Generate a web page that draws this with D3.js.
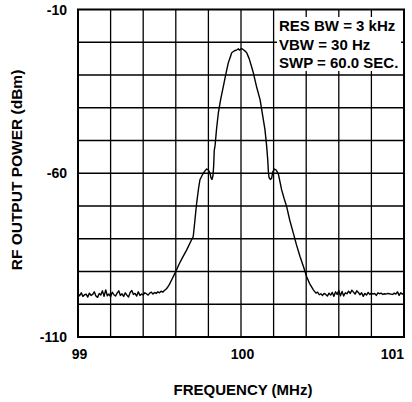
<!DOCTYPE html>
<html>
<head>
<meta charset="utf-8">
<script src="https://cdn.jsdelivr.net/npm/d3@7"></script>
<style>
  body { margin: 0; background: #fff; }
  text { font-family: "Liberation Sans", Arial, sans-serif; font-weight: bold; fill: #000; }
</style>
</head>
<body>
<script>
// axis setup
var xTicks = [99, 100, 101];
var yTicks = [-10, -60, -110];
var xTitle = 'FREQUENCY (MHz)';
var yTitle = 'RF OUTPUT POWER (dBm)';
var notes = ['RES BW = 3 kHz', 'VBW = 30 Hz', 'SWP = 60.0 SEC.'];

// noise floor, left of carrier [MHz, dBm]
var noiseLeft = [
  [99.00,-96.8],[99.01,-97.4],[99.02,-96.5],[99.03,-97.6],[99.04,-97.1],[99.05,-96.9],[99.06,-97.8],[99.07,-96.6],
  [99.08,-97.3],[99.09,-97.0],[99.10,-96.2],[99.11,-97.5],[99.12,-97.9],[99.13,-96.7],[99.14,-97.2],[99.15,-95.9],
  [99.16,-97.6],[99.17,-95.6],[99.18,-97.4],[99.19,-96.9],[99.20,-97.7],[99.21,-96.3],[99.22,-97.1],[99.23,-97.5],
  [99.24,-96.6],[99.25,-95.9],[99.26,-97.3],[99.27,-96.8],[99.28,-97.6],[99.29,-96.5],[99.30,-97.2],[99.31,-97.8],
  [99.32,-96.4],[99.33,-95.8],[99.34,-97.0],[99.35,-96.7],[99.36,-97.5],[99.37,-96.2],[99.38,-97.3],[99.39,-96.9],
  [99.40,-97.1],[99.41,-96.5],[99.42,-96.8],[99.43,-97.2],[99.44,-96.6],[99.45,-96.3],[99.46,-96.9],[99.47,-96.4],
  [99.48,-96.7],[99.49,-96.2],[99.50,-96.5],[99.51,-96.0],[99.52,-96.3],[99.53,-95.8],[99.54,-95.4],[99.55,-94.8]
];

// carrier and sidebands
var carrier = [
  [99.56,-94.0],[99.575,-92.5],[99.595,-90.5],[99.62,-87.8],[99.645,-85.4],[99.667,-83.4],[99.69,-81.0],
  [99.707,-79.3],[99.715,-75.5],[99.722,-72.0],[99.728,-69.1],[99.74,-64.5],[99.748,-62.0],[99.765,-60.3],
  [99.78,-59.2],[99.789,-58.7],[99.80,-59.0],[99.81,-60.0],[99.816,-61.4],[99.822,-61.9],[99.828,-60.8],
  [99.832,-58.0],[99.836,-53.0],[99.841,-51.5],[99.85,-46.5],[99.861,-41.6],[99.875,-37.5],[99.892,-33.4],
  [99.905,-30.2],[99.922,-26.3],[99.935,-24.4],[99.943,-23.2],[99.96,-22.6],[99.975,-22.3],[99.984,-22.0],
  [99.99,-22.4],[100.004,-21.9],[100.015,-22.3],[100.025,-22.7],[100.035,-23.2],[100.05,-25.0],[100.065,-27.5],
  [100.076,-29.4],[100.095,-33.5],[100.117,-37.5],[100.13,-41.5],[100.147,-46.7],[100.157,-51.5],[100.164,-55.9],
  [100.168,-59.5],[100.172,-61.3],[100.18,-61.9],[100.188,-61.5],[100.195,-59.6],[100.205,-58.7],[100.215,-59.0],
  [100.229,-60.2],[100.24,-62.8],[100.249,-65.0],[100.265,-67.8],[100.28,-70.2],[100.30,-74.5],[100.321,-78.3],
  [100.34,-81.8],[100.362,-85.4],[100.385,-88.8],[100.403,-91.6],[100.42,-93.6],[100.444,-95.6]
];

// noise floor, right of carrier
var noiseRight = [
  [100.45,-96.0],[100.46,-96.6],[100.47,-96.3],[100.48,-97.1],[100.49,-96.8],[100.50,-97.3],[100.51,-96.7],[100.52,-97.0],
  [100.53,-97.5],[100.54,-96.6],[100.55,-97.2],[100.56,-96.4],[100.57,-97.6],[100.58,-96.2],[100.59,-97.0],[100.60,-95.8],
  [100.61,-97.4],[100.62,-96.1],[100.63,-97.5],[100.64,-96.5],[100.65,-96.8],[100.66,-96.0],[100.67,-96.7],[100.68,-95.7],
  [100.69,-96.3],[100.70,-96.9],[100.71,-95.9],[100.72,-96.4],[100.73,-97.1],[100.74,-96.5],[100.75,-97.6],[100.76,-96.7],
  [100.77,-97.2],[100.78,-96.4],[100.79,-97.0],[100.80,-96.6],[100.81,-96.9],[100.82,-96.7],[100.83,-97.3],[100.84,-96.5],
  [100.85,-96.8],[100.86,-96.6],[100.87,-97.0],[100.88,-96.8],[100.89,-96.9],[100.90,-96.7],[100.91,-96.8],[100.92,-96.9],
  [100.93,-97.0],[100.94,-96.6],[100.95,-96.9],[100.96,-96.2],[100.97,-97.3],[100.98,-96.5],[100.99,-96.9],[101.00,-96.7]
];

var trace = noiseLeft.concat(carrier, noiseRight);

var W = 412, H = 402;
// plot frame edges (pixels)
var pLeft = 78, pRight = 404, pTop = 9.5, pBottom = 337;

let svg = d3.select("body")
    .append("svg")
    .attr("width", W)
    .attr("height", H);

var x = d3.scaleLinear().domain([99, 101]).range([pLeft, pRight]);
var y = d3.scaleLinear().domain([-110, -10]).range([pBottom, pTop]);

// grid, 10 divisions each way
var grid = svg.append('g');
grid.selectAll('line.v')
    .data(d3.range(1, 10))
    .enter().append('line')
    .attr('class', 'v')
    .attr('x1', d => x(99 + d * 0.2)).attr('x2', d => x(99 + d * 0.2))
    .attr('y1', pTop).attr('y2', pBottom)
    .attr('stroke', '#000').attr('stroke-width', 1.3);
grid.selectAll('line.h')
    .data(d3.range(1, 10))
    .enter().append('line')
    .attr('class', 'h')
    .attr('y1', d => y(-110 + d * 10)).attr('y2', d => y(-110 + d * 10))
    .attr('x1', pLeft).attr('x2', pRight)
    .attr('stroke', '#000').attr('stroke-width', 1.3);

// white box behind settings text
svg.append('rect')
    .attr('x', 277).attr('y', 17)
    .attr('width', 124).attr('height', 54)
    .attr('fill', '#fff');

svg.append('g').selectAll('text')
    .data(notes)
    .enter().append('text')
    .attr('x', 279)
    .attr('y', (d, i) => 31 + i * 18.6)
    .style('font-size', '15px')
    .text(d => d);

// trace
let line = d3.line()
    .x(d => x(d[0]))
    .y(d => y(d[1]));

svg.append('path')
    .datum(trace)
    .attr('d', line)
    .attr('fill', 'none')
    .attr('stroke', '#000')
    .attr('stroke-width', 1.4)
    .attr('stroke-linejoin', 'round');

// frame
svg.append('rect')
    .attr('x', pLeft).attr('y', pTop)
    .attr('width', pRight - pLeft).attr('height', pBottom - pTop)
    .attr('fill', 'none')
    .attr('stroke', '#000')
    .attr('stroke-width', 2);

// tick labels - last one is pulled in so it stays on the page
svg.append('g').selectAll('text')
    .data(xTicks)
    .enter().append('text')
    .attr('x', (d, i) => i == xTicks.length - 1 ? x(d) : x(d) + 1.5)
    .attr('y', 359)
    .attr('text-anchor', (d, i) => i == xTicks.length - 1 ? 'end' : 'middle')
    .style('font-size', '14px')
    .text(d => d);

svg.append('g').selectAll('text')
    .data(yTicks)
    .enter().append('text')
    .attr('x', 67)
    .attr('y', d => y(d) + 5)
    .attr('text-anchor', 'end')
    .style('font-size', '14px')
    .text(d => d);

// axis titles
svg.append('text')
    .attr('x', 243)
    .attr('y', 395)
    .attr('text-anchor', 'middle')
    .style('font-size', '15px')
    .text(xTitle);

svg.append('text')
    .attr('transform', 'translate(21.5,170) rotate(-90)')
    .attr('text-anchor', 'middle')
    .style('font-size', '15.5px')
    .text(yTitle);
</script>
</body>
</html>
